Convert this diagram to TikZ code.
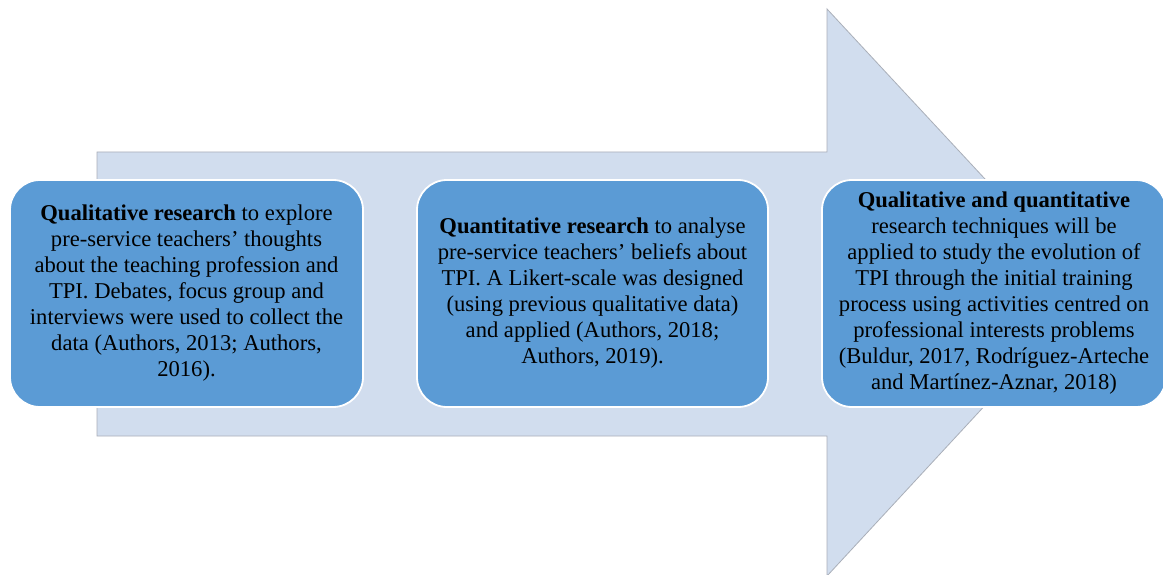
\documentclass[tikz,border=0pt]{standalone}
\usepackage{fontspec}
\setmainfont{Liberation Serif}
\definecolor{arrowfill}{RGB}{209,221,238}
\definecolor{arrowline}{RGB}{170,175,185}
\definecolor{boxfill}{RGB}{91,155,213}
\tikzset{
  stagebox/.style={draw=white, line width=1.8pt, fill=boxfill, rounded corners=30pt,
    minimum height=227pt, inner sep=0pt, align=center, text=black,
    font=\fontsize{22.6}{26}\selectfont},
}
\begin{document}
\begin{tikzpicture}[x=1pt,y=-1pt]
\useasboundingbox (0,0) rectangle (1163,575);
\fill[white] (0,0) rectangle (1163,575);
\draw[fill=arrowfill, draw=arrowline, line width=0.8pt]
  (97,152) -- (827,152) -- (827,9) -- (1090,292) -- (827,576) -- (827,436) -- (97,436) -- cycle;
\node[stagebox, minimum width=353pt] (box1) at (186.5,293.5)
  {\textbf{Qualitative research} to explore\\
   pre-service teachers’ thoughts\\
   about the teaching profession and\\
   TPI. Debates, focus group and\\
   interviews were used to collect the\\
   data (Authors, 2013; Authors,\\
   2016).};
\node[stagebox, minimum width=351pt] (box2) at (592.5,293.5)
  {\textbf{Quantitative research} to analyse\\
   pre-service teachers’ beliefs about\\
   TPI. A Likert-scale was designed\\
   (using previous qualitative data)\\
   and applied (Authors, 2018;\\
   Authors, 2019).};
\node[stagebox, minimum width=344pt] (box3) at (994,293.5)
  {\textbf{Qualitative and quantitative}\\
   research techniques will be\\
   applied to study the evolution of\\
   TPI through the initial training\\
   process using activities centred on\\
   professional interests problems\\
   (Buldur, 2017, Rodríguez-Arteche\\
   and Martínez-Aznar, 2018)};
\end{tikzpicture}
\end{document}
